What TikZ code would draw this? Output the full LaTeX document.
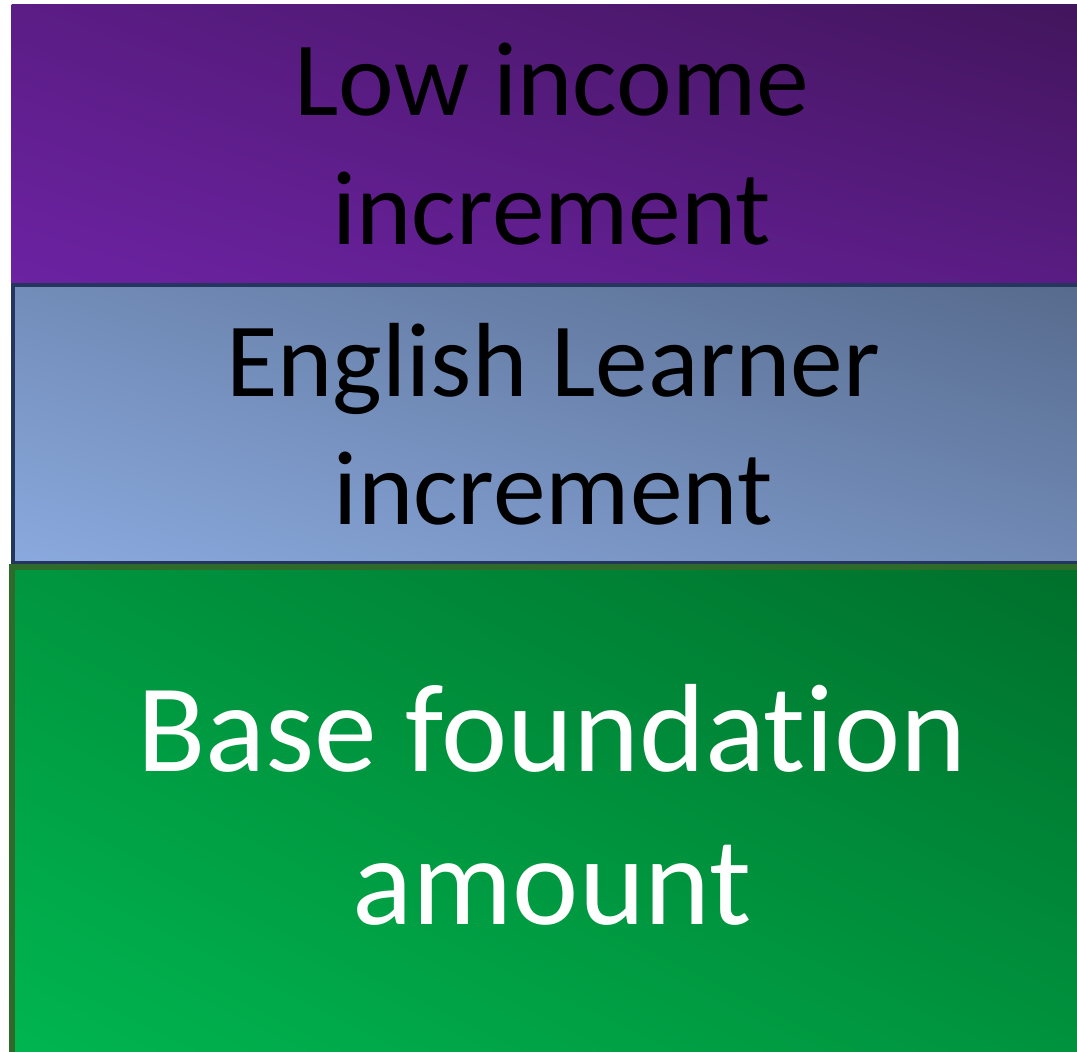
\documentclass[tikz,border=0pt]{standalone}
\usepackage{fontspec}
\setmainfont[Ligatures=NoCommon]{Carlito}
\usetikzlibrary{positioning,shadings}

\definecolor{purpleLight}{HTML}{6C22A2}
\definecolor{purpleDark}{HTML}{42155C}
\definecolor{blueLight}{HTML}{8AA9DE}
\definecolor{blueDark}{HTML}{566A8C}
\definecolor{blueEdge}{HTML}{24365E}
\definecolor{greenLight}{HTML}{00B650}
\definecolor{greenDark}{HTML}{006F2B}
\definecolor{greenEdge}{HTML}{2E6A2A}

\tikzset{
  band/.style={rectangle, inner sep=0pt, anchor=north west, align=center,
    minimum width=10.80cm},
  bigtext/.style={font=\fontsize{30}{36.5}\selectfont},
  hugetext/.style={font=\fontsize{35.7}{43.5}\selectfont}
}

\begin{document}
\begin{tikzpicture}
\useasboundingbox (0,0) rectangle (10.77,-10.51);

% 1. Low income band
\node[band, bigtext, minimum height=2.79cm, shade,
      lower left=purpleLight, upper right=purpleDark,
      upper left=purpleLight!60!purpleDark, lower right=purpleLight!55!purpleDark]
  (lowincome) at (0.11,-0.04) {Low income\\increment};

% 2. English Learner band
\node[band, bigtext, minimum height=2.78cm, draw=blueEdge, line width=1.2pt, shade,
      lower left=blueLight, upper right=blueDark,
      upper left=blueLight!55!blueDark, lower right=blueLight!50!blueDark]
  (learner) at (0.11,-2.83) {English Learner\\increment};

% 3. Base foundation band
\node[band, hugetext, text=white, text depth=0.2cm, minimum height=4.95cm,
      draw=greenEdge, line width=1.8pt, shade,
      lower left=greenLight, upper right=greenDark,
      upper left=greenLight!55!greenDark, lower right=greenLight!50!greenDark]
  (base) at (0.09,-5.64) {Base foundation\\amount};
\end{tikzpicture}
\end{document}
